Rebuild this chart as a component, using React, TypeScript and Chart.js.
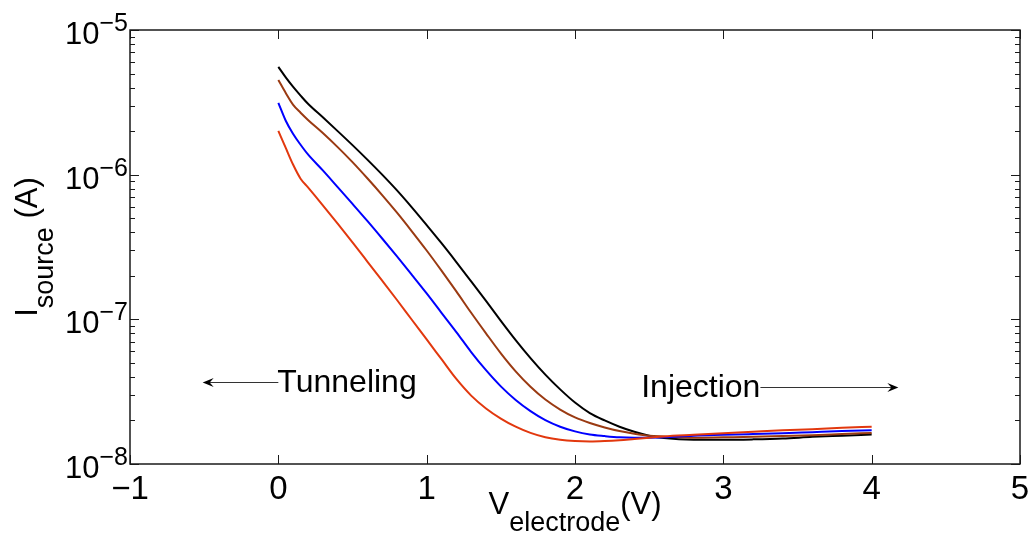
import React, { useEffect, useRef } from "react";
import { Chart, registerables } from "chart.js";

Chart.register(...registerables);

// ---------------- data ----------------
const voltage = [
  0, 0.05, 0.1, 0.15, 0.2, 0.3, 0.4, 0.5, 0.6, 0.7, 0.8, 0.9, 1.0, 1.1, 1.2, 1.3,
  1.4, 1.5, 1.6, 1.7, 1.8, 1.9, 2.0, 2.1, 2.2, 2.3, 2.4, 2.5, 2.6, 2.8, 3.0, 3.2,
  3.4, 3.6, 3.8, 4.0,
];

const currentBlack = [
  5.56e-6, 4.7e-6, 4.04e-6, 3.52e-6, 3.09e-6, 2.49e-6, 2.0e-6, 1.6e-6, 1.27e-6,
  1.0e-6, 7.78e-7, 5.94e-7, 4.48e-7, 3.36e-7, 2.49e-7, 1.83e-7, 1.34e-7, 9.77e-8,
  7.19e-8, 5.4e-8, 4.15e-8, 3.28e-8, 2.66e-8, 2.25e-8, 2.0e-8, 1.81e-8, 1.67e-8,
  1.57e-8, 1.51e-8, 1.47e-8, 1.47e-8, 1.48e-8, 1.5e-8, 1.54e-8, 1.57e-8, 1.6e-8,
];

const currentBrown = [
  4.52e-6, 3.67e-6, 3.04e-6, 2.68e-6, 2.39e-6, 1.94e-6, 1.55e-6, 1.22e-6, 9.44e-7,
  7.23e-7, 5.46e-7, 4.06e-7, 2.99e-7, 2.17e-7, 1.56e-7, 1.11e-7, 8.0e-8, 5.82e-8,
  4.37e-8, 3.42e-8, 2.79e-8, 2.38e-8, 2.1e-8, 1.92e-8, 1.79e-8, 1.69e-8, 1.62e-8,
  1.57e-8, 1.55e-8, 1.52e-8, 1.53e-8, 1.54e-8, 1.56e-8, 1.58e-8, 1.61e-8, 1.64e-8,
];

const currentBlue = [
  3.14e-6, 2.36e-6, 1.91e-6, 1.61e-6, 1.38e-6, 1.07e-6, 8.2e-7, 6.28e-7, 4.79e-7,
  3.62e-7, 2.72e-7, 2.03e-7, 1.51e-7, 1.11e-7, 8.17e-8, 5.94e-8, 4.45e-8, 3.44e-8,
  2.77e-8, 2.32e-8, 2.01e-8, 1.81e-8, 1.68e-8, 1.6e-8, 1.56e-8, 1.53e-8, 1.52e-8,
  1.52e-8, 1.53e-8, 1.57e-8, 1.59e-8, 1.61e-8, 1.63e-8, 1.66e-8, 1.69e-8, 1.71e-8,
];

const currentRed = [
  2.01e-6, 1.53e-6, 1.17e-6, 9.38e-7, 8.17e-7, 6.14e-7, 4.58e-7, 3.4e-7, 2.51e-7,
  1.85e-7, 1.36e-7, 9.93e-8, 7.26e-8, 5.3e-8, 3.87e-8, 2.97e-8, 2.42e-8, 2.06e-8,
  1.81e-8, 1.64e-8, 1.53e-8, 1.47e-8, 1.44e-8, 1.43e-8, 1.44e-8, 1.46e-8, 1.49e-8,
  1.52e-8, 1.55e-8, 1.59e-8, 1.63e-8, 1.67e-8, 1.71e-8, 1.74e-8, 1.78e-8, 1.81e-8,
];

const xTickValues = [-1, 0, 1, 2, 3, 4, 5];
const yTickExponents = [-8, -7, -6, -5];

const tunnelingLabel = "Tunneling";
const tunnelingArrow = { fromV: 0, toV: -0.51, current: 3.66e-8 };
const injectionLabel = "Injection";
const injectionArrow = { fromV: 3.25, toV: 4.18, current: 3.38e-8 };

// ---------------- styling ----------------
const FONT = '"Liberation Sans", Arial, Helvetica, sans-serif';
const TICK = 33;
const MAIN = 31;
const NOTE = 32;
const SUP = 25;
const SUB = 27;

const seriesList = [
  { values: currentRed, color: "#e2380e" },
  { values: currentBlue, color: "#0000ff" },
  { values: currentBrown, color: "#9a3a12" },
  { values: currentBlack, color: "#000000" },
];

type Part = { t: string; size: number; dy: number };

function partsWidth(ctx: CanvasRenderingContext2D, parts: Part[]) {
  let w = 0;
  for (const p of parts) {
    ctx.font = `${p.size}px ${FONT}`;
    w += ctx.measureText(p.t).width;
  }
  return w;
}

function drawParts(ctx: CanvasRenderingContext2D, parts: Part[], x: number, y: number) {
  let cx = x;
  ctx.textAlign = "left";
  ctx.textBaseline = "alphabetic";
  for (const p of parts) {
    ctx.font = `${p.size}px ${FONT}`;
    ctx.fillText(p.t, cx, y + p.dy);
    cx += ctx.measureText(p.t).width;
  }
}

function drawArrow(ctx: CanvasRenderingContext2D, x0: number, y0: number, x1: number, y1: number) {
  const ang = Math.atan2(y1 - y0, x1 - x0);
  const len = 11;
  const half = 4.5;
  const back = 7;
  ctx.strokeStyle = "#333";
  ctx.lineWidth = 1.2;
  ctx.beginPath();
  ctx.moveTo(x0, y0);
  ctx.lineTo(x1 - Math.cos(ang) * 4, y1 - Math.sin(ang) * 4);
  ctx.stroke();
  const c = Math.cos(ang);
  const s = Math.sin(ang);
  const pt = (u: number, v: number) => [x1 + u * c - v * s, y1 + u * s + v * c];
  ctx.fillStyle = "#000";
  ctx.beginPath();
  const p0 = pt(0, 0);
  const p1 = pt(-len, -half);
  const p2 = pt(-back, 0);
  const p3 = pt(-len, half);
  ctx.moveTo(p0[0], p0[1]);
  ctx.lineTo(p1[0], p1[1]);
  ctx.lineTo(p2[0], p2[1]);
  ctx.lineTo(p3[0], p3[1]);
  ctx.closePath();
  ctx.fill();
}

const matlabAxes = {
  id: "matlabAxes",
  afterDraw(chart: any) {
    const { ctx, chartArea: a } = chart;
    const x = chart.scales.x;
    const y = chart.scales.y;
    ctx.save();

    // ticks (inward)
    ctx.strokeStyle = "#1a1a1a";
    ctx.lineWidth = 1;
    const line = (x0: number, y0: number, x1: number, y1: number) => {
      ctx.beginPath();
      ctx.moveTo(x0, y0);
      ctx.lineTo(x1, y1);
      ctx.stroke();
    };
    for (const v of xTickValues) {
      const px = Math.round(x.getPixelForValue(v)) + 0.5;
      line(px, a.bottom, px, a.bottom - 9);
      line(px, a.top, px, a.top + 9);
    }
    for (let i = 0; i < yTickExponents.length; i++) {
      const e = yTickExponents[i];
      const kmax = i === yTickExponents.length - 1 ? 1 : 9;
      for (let k = 1; k <= kmax; k++) {
        const py = Math.round(y.getPixelForValue(k * Math.pow(10, e))) + 0.5;
        const L = k === 1 ? 9 : 5;
        line(a.left, py, a.left + L, py);
        line(a.right, py, a.right - L, py);
      }
    }

    // box
    ctx.lineWidth = 1.5;
    ctx.strokeStyle = "#1a1a1a";
    ctx.strokeRect(a.left, a.top, a.right - a.left, a.bottom - a.top);

    ctx.fillStyle = "#000";
    // x tick labels
    ctx.font = `${TICK}px ${FONT}`;
    ctx.textAlign = "center";
    ctx.textBaseline = "alphabetic";
    for (const v of xTickValues) {
      const label = v < 0 ? "\u2212" + Math.abs(v) : String(v);
      ctx.fillText(label, x.getPixelForValue(v), a.bottom + 35);
    }

    // y tick labels 10^e
    for (const e of yTickExponents) {
      const py = y.getPixelForValue(Math.pow(10, e));
      const parts: Part[] = [
        { t: "10", size: MAIN, dy: 0 },
        { t: "\u2212" + Math.abs(e), size: SUP, dy: -13 },
      ];
      const w = partsWidth(ctx, parts);
      drawParts(ctx, parts, a.left - 2 - w, py + 14);
    }

    // x title
    const xParts: Part[] = [
      { t: "V", size: MAIN, dy: 0 },
      { t: "electrode", size: SUB, dy: 17 },
      { t: "(V)", size: MAIN, dy: 0 },
    ];
    const xw = partsWidth(ctx, xParts);
    drawParts(ctx, xParts, (a.left + a.right) / 2 - xw / 2, 513.5);

    // y title
    const yParts: Part[] = [
      { t: "I", size: MAIN, dy: 0 },
      { t: "source", size: SUB, dy: 16 },
      { t: " (A)", size: MAIN, dy: 0 },
    ];
    const yw = partsWidth(ctx, yParts);
    ctx.save();
    ctx.translate(37, (a.top + a.bottom) / 2);
    ctx.rotate(-Math.PI / 2);
    drawParts(ctx, yParts, -yw / 2, 0);
    ctx.restore();

    // annotations
    const tY = y.getPixelForValue(tunnelingArrow.current);
    const tX0 = x.getPixelForValue(tunnelingArrow.fromV);
    const tX1 = x.getPixelForValue(tunnelingArrow.toV);
    drawArrow(ctx, tX0, tY, tX1, tY);
    ctx.fillStyle = "#000";
    ctx.textAlign = "left";
    ctx.textBaseline = "alphabetic";
    ctx.font = `${NOTE}px ${FONT}`;
    ctx.fillText(tunnelingLabel, tX0 - 1, tY + 9.5);

    const iY = y.getPixelForValue(injectionArrow.current);
    const iX0 = x.getPixelForValue(injectionArrow.fromV);
    const iX1 = x.getPixelForValue(injectionArrow.toV);
    drawArrow(ctx, iX0, iY, iX1, iY);
    ctx.fillStyle = "#000";
    ctx.font = `${NOTE}px ${FONT}`;
    ctx.textAlign = "right";
    ctx.fillText(injectionLabel, iX0, iY + 9.5);

    ctx.restore();
  },
};

export default function App() {
  const ref = useRef<HTMLCanvasElement | null>(null);

  useEffect(() => {
    if (!ref.current) return;
    const chart = new Chart(ref.current, {
      type: "line",
      data: {
        datasets: seriesList.map((s) => ({
          data: voltage.map((v, i) => ({ x: v, y: s.values[i] })),
          borderColor: s.color,
          backgroundColor: s.color,
          borderWidth: 2,
          pointRadius: 0,
          fill: false,
          cubicInterpolationMode: "monotone" as const,
        })),
      },
      options: {
        responsive: false,
        animation: false,
        layout: { padding: { top: 30, right: 12, left: 0, bottom: 0 } },
        plugins: {
          legend: { display: false },
          tooltip: { enabled: false },
        },
        scales: {
          x: {
            type: "linear",
            min: -1,
            max: 5,
            grid: { display: false },
            border: { display: false },
            ticks: { display: false },
            afterFit: (s: any) => {
              s.height = 73;
            },
          },
          y: {
            type: "logarithmic",
            min: 1e-8,
            max: 1e-5,
            grid: { display: false },
            border: { display: false },
            ticks: { display: false },
            afterFit: (s: any) => {
              s.width = 130;
            },
          },
        },
      },
      plugins: [matlabAxes],
    });
    return () => chart.destroy();
  }, []);

  return (
    <div
      style={{
        position: "absolute",
        left: 0,
        top: 0,
        width: 1032,
        height: 537,
        background: "#ffffff",
      }}
    >
      <canvas
        ref={ref}
        width={1032}
        height={537}
        style={{ display: "block", width: 1032, height: 537 }}
      />
    </div>
  );
}
